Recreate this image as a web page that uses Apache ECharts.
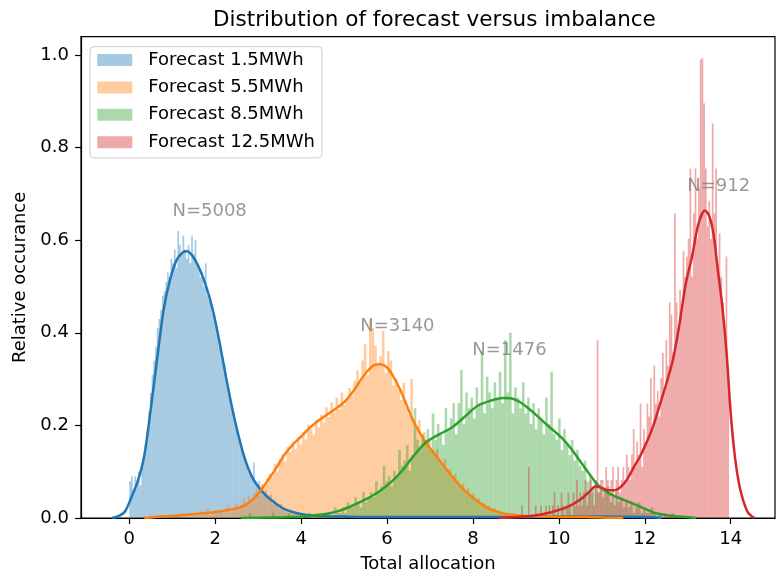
<!DOCTYPE html>
<html>
<head>
<meta charset="utf-8">
<script src="https://cdn.jsdelivr.net/npm/echarts@6/dist/echarts.min.js"></script>
<style>html,body{margin:0;padding:0;background:#fff}#chart{width:776px;height:573px}</style>
</head>
<body>
<div id="chart"></div>
<script>
// ---- Data ----
const seriesNames = ['Forecast 1.5MWh', 'Forecast 5.5MWh', 'Forecast 8.5MWh', 'Forecast 12.5MWh'];
const xTicks = [0, 2, 4, 6, 8, 10, 12, 14];
const yTicks = [0.0, 0.2, 0.4, 0.6, 0.8, 1.0];

// Histograms: first bin edge, bin width, densities
const blueStart = 0.0, blueWidth = 0.04;
const blueHist = [
  0.08,0.09,0.06,0.09,0.08,0.10,0.07,0.11,0.13,0.16,
  0.19,0.23,0.27,0.31,0.34,0.37,0.41,0.43,0.45,0.48,
  0.49,0.51,0.53,0.52,0.56,0.55,0.58,0.54,0.62,0.59,
  0.57,0.61,0.58,0.56,0.59,0.55,0.61,0.57,0.60,0.55,
  0.54,0.52,0.53,0.50,0.55,0.48,0.47,0.46,0.44,0.43,
  0.42,0.40,0.37,0.36,0.34,0.33,0.30,0.28,0.26,0.24,
  0.23,0.21,0.19,0.18,0.16,0.15,0.14,0.13,0.11,0.10,
  0.10,0.09,0.12,0.08,0.07,0.08,0.06,0.07,0.05,0.06,
  0.05,0.04,0.05,0.03,0.04,0.03,0.03,0.02,0.03,0.02,
  0.02,0.02,0.01,0.02,0.01,0.01,0.01,0.01,0.01
];
const orangeStart = 0.3, orangeWidth = 0.06;
const orangeHist = [
  0.005,0,0,0.005,0,0,0.005,0,0,0.005,
  0,0.005,0,0,0.005,0.011,0,0.005,0,0.005,
  0.011,0.005,0.016,0.005,0.011,0.021,0.005,0.011,0.016,0.011,
  0.016,0.011,0.021,0.027,0.011,0.016,0.032,0.021,0.027,0.043,
  0.032,0.048,0.037,0.053,0.064,0.048,0.074,0.069,0.085,0.096,
  0.090,0.117,0.101,0.128,0.138,0.122,0.154,0.143,0.165,0.149,
  0.175,0.159,0.186,0.170,0.202,0.191,0.180,0.212,0.196,0.223,
  0.207,0.239,0.218,0.250,0.228,0.260,0.234,0.271,0.244,0.255,
  0.281,0.265,0.297,0.319,0.292,0.340,0.375,0.308,0.430,0.410,
  0.372,0.329,0.350,0.404,0.313,0.361,0.340,0.287,0.302,0.276,
  0.255,0.292,0.239,0.223,0.300,0.207,0.191,0.212,0.175,0.186,
  0.159,0.170,0.143,0.138,0.149,0.122,0.112,0.128,0.101,0.106,
  0.090,0.096,0.080,0.069,0.074,0.058,0.064,0.048,0.053,0.037,
  0.043,0.027,0.032,0.021,0.027,0.016,0.021,0.011,0.016,0.011,
  0.005,0.011,0.005,0.011,0.005,0,0.005,0.005,0,0.005,
  0,0.005,0,0,0.005,0,0,0.005,0,0,
  0,0,0.005,0,0,0,0,0.005,0,0
];
const greenStart = 2.6, greenWidth = 0.06;
const greenHist = [
  0,0,0,0.011,0,0,0,0,0,0,
  0,0,0.011,0,0,0,0,0,0.011,0,
  0,0,0,0.011,0,0,0.011,0,0,0.011,
  0,0.011,0,0.011,0.011,0,0.023,0.011,0.011,0.023,
  0.011,0.034,0.023,0.023,0.045,0.034,0.023,0.056,0.034,0.045,
  0.056,0.045,0.079,0.056,0.068,0.113,0.079,0.090,0.068,0.102,
  0.090,0.147,0.113,0.124,0.158,0.102,0.136,0.237,0.169,0.147,
  0.181,0.158,0.192,0.147,0.226,0.169,0.203,0.181,0.158,0.237,
  0.192,0.215,0.248,0.181,0.248,0.320,0.203,0.271,0.237,0.260,
  0.215,0.282,0.248,0.361,0.226,0.305,0.271,0.237,0.293,0.260,
  0.316,0.248,0.384,0.271,0.400,0.226,0.282,0.260,0.237,0.293,
  0.226,0.260,0.203,0.248,0.192,0.237,0.215,0.181,0.260,0.203,
  0.316,0.181,0.169,0.215,0.147,0.192,0.158,0.136,0.169,0.124,
  0.147,0.113,0.102,0.124,0.079,0.090,0.068,0.079,0.056,0.068,
  0.045,0.056,0.068,0.034,0.045,0.056,0.034,0.045,0.023,0.034,
  0.023,0.034,0.011,0.023,0.034,0.011,0.023,0.011,0.011,0.023,
  0.011,0,0.011,0,0.011,0,0,0.011,0,0
];
const redStart = 9.0, redWidth = 0.04;
const redHist = [
  0,0,0,0.027,0,0,0,0.110,0,0,
  0,0.027,0,0,0.027,0,0,0.027,0,0.027,
  0,0.027,0.055,0,0.027,0,0.055,0.027,0,0.027,
  0.055,0.027,0,0.055,0.027,0.082,0.027,0.055,0.027,0.055,
  0.082,0.027,0.055,0.082,0.055,0.027,0.082,0.384,0.055,0.082,
  0.082,0.055,0.110,0.082,0.055,0.082,0.110,0.027,0.082,0.110,
  0.055,0.082,0.110,0.082,0.137,0.110,0.082,0.137,0.192,0.110,
  0.165,0.137,0.247,0.110,0.192,0.165,0.247,0.219,0.302,0.192,
  0.329,0.247,0.274,0.219,0.302,0.357,0.274,0.384,0.329,0.466,
  0.439,0.357,0.658,0.466,0.411,0.493,0.439,0.576,0.521,0.565,
  0.603,0.755,0.521,0.658,0.755,0.603,0.713,0.990,0.993,0.896,
  0.755,0.630,0.685,0.603,0.852,0.658,0.755,0.548,0.615,0.521,
  0.466,0.384,0.565,0.329
];

// KDE curves
const blueKdeX = [-0.40,-0.25,-0.10,0.05,0.20,0.35,0.50,0.65,0.80,0.95,1.10,1.25,1.35,1.50,1.65,1.80,1.95,2.10,2.25,2.40,2.55,2.70,2.85,3.00,3.20,3.40,3.60,3.80,4.10,4.50,5.00,6.00,7.00,8.00,9.00,10.00,11.00,12.00,12.40];
const blueKdeY = [0.000,0.004,0.014,0.045,0.080,0.135,0.235,0.345,0.450,0.515,0.557,0.574,0.576,0.562,0.535,0.497,0.447,0.380,0.305,0.235,0.175,0.125,0.090,0.068,0.047,0.032,0.020,0.013,0.007,0.004,0.003,0.002,0.002,0.002,0.002,0.003,0.003,0.002,0.000];
const orangeKdeX = [0.35,0.8,1.2,1.6,2.0,2.3,2.5,2.7,2.85,3.0,3.2,3.4,3.6,3.8,4.0,4.2,4.4,4.6,4.8,5.0,5.2,5.4,5.55,5.7,5.85,6.0,6.15,6.3,6.45,6.6,6.75,6.9,7.05,7.2,7.4,7.6,7.8,8.0,8.2,8.4,8.7,9.0,9.4,9.8,10.2,10.6,11.0,11.5];
const orangeKdeY = [0.000,0.004,0.006,0.009,0.013,0.017,0.021,0.028,0.038,0.052,0.078,0.105,0.135,0.158,0.176,0.195,0.210,0.223,0.236,0.250,0.272,0.300,0.318,0.330,0.332,0.325,0.305,0.278,0.245,0.212,0.186,0.163,0.145,0.127,0.103,0.080,0.060,0.044,0.030,0.019,0.010,0.006,0.004,0.003,0.002,0.002,0.001,0.000];
const greenKdeX = [2.6,3.2,3.8,4.2,4.6,4.9,5.2,5.5,5.8,6.1,6.35,6.6,6.9,7.2,7.5,7.8,8.1,8.4,8.7,8.9,9.1,9.3,9.5,9.7,9.9,10.1,10.3,10.5,10.7,10.9,11.1,11.3,11.6,11.9,12.2,12.5,12.8,13.2];
const greenKdeY = [0.000,0.001,0.002,0.004,0.009,0.016,0.027,0.040,0.056,0.078,0.102,0.132,0.163,0.180,0.195,0.218,0.242,0.253,0.259,0.258,0.250,0.236,0.220,0.203,0.187,0.170,0.148,0.122,0.096,0.072,0.057,0.047,0.036,0.024,0.012,0.006,0.003,0.000];
const redKdeX = [8.6,9.0,9.4,9.8,10.2,10.5,10.7,10.85,11.0,11.15,11.3,11.45,11.6,11.75,11.9,12.05,12.2,12.35,12.5,12.65,12.8,12.95,13.1,13.25,13.4,13.5,13.6,13.7,13.8,13.9,14.0,14.1,14.2,14.3,14.4,14.55];
const redKdeY = [0.000,0.002,0.005,0.012,0.024,0.040,0.056,0.068,0.065,0.060,0.060,0.068,0.085,0.111,0.135,0.165,0.200,0.245,0.290,0.340,0.415,0.505,0.565,0.636,0.664,0.652,0.612,0.535,0.460,0.360,0.225,0.130,0.070,0.035,0.012,0.000];

// N annotations
const nLabelText = ['N=5008', 'N=3140', 'N=1476', 'N=912'];
const nLabelX = [1.87, 6.24, 8.85, 13.72];
const nLabelY = [0.663, 0.413, 0.363, 0.716];

// ---- Build ----
const baseColors = ['#1f77b4', '#ff7f0e', '#2ca02c', '#d62728'];
const fillColors = ['rgba(31,119,180,0.4)', 'rgba(255,127,14,0.4)', 'rgba(44,160,44,0.4)', 'rgba(214,39,40,0.4)'];
const hists = [[blueStart, blueWidth, blueHist], [orangeStart, orangeWidth, orangeHist], [greenStart, greenWidth, greenHist], [redStart, redWidth, redHist]];
const kdes = [[blueKdeX, blueKdeY], [orangeKdeX, orangeKdeY], [greenKdeX, greenKdeY], [redKdeX, redKdeY]];
const FONT = 'DejaVu Sans';

function histData(start, w, vals) {
  return vals.map((v, i) => [start + i * w, start + (i + 1) * w, v]);
}
function renderBar(params, api) {
  const h = api.value(2);
  if (!h) return null;
  const p0 = api.coord([api.value(0), 0]);
  const p1 = api.coord([api.value(1), h]);
  return {
    type: 'rect',
    shape: { x: p0[0], y: p1[1], width: p1[0] - p0[0], height: p0[1] - p1[1] },
    style: { fill: api.visual('color') }
  };
}

const series = [];
for (let k = 0; k < 4; k++) {
  const [s, w, vals] = hists[k];
  series.push({
    name: seriesNames[k], type: 'custom', renderItem: renderBar,
    data: histData(s, w, vals), encode: { x: [0, 1], y: 2 },
    itemStyle: { color: fillColors[k] }, silent: true
  });
  const [kx, ky] = kdes[k];
  series.push({
    name: 'kde' + k, type: 'line', data: kx.map((x, i) => [x, ky[i]]),
    showSymbol: false, smooth: 0.3, silent: true,
    lineStyle: { color: baseColors[k], width: 2.5 }, itemStyle: { color: baseColors[k] }
  });
}
series.push({
  name: 'labels', type: 'scatter', symbolSize: 1, silent: true,
  itemStyle: { color: 'transparent' },
  data: nLabelText.map((t, i) => ({ value: [nLabelX[i], nLabelY[i]], name: t })),
  label: { show: true, position: 'inside', formatter: p => p.name, color: '#808080', fontSize: 18, fontFamily: FONT }
});

const chart = echarts.init(document.getElementById('chart'), null, { renderer: 'canvas' });
chart.setOption({
  animation: false,
  backgroundColor: '#fff',
  title: {
    text: 'Distribution of forecast versus imbalance', left: 208, top: 4,
    textStyle: { fontFamily: FONT, fontSize: 21.5, fontWeight: 'normal', color: '#000' }
  },
  legend: {
    data: seriesNames, orient: 'vertical', left: 90, top: 46.7,
    icon: 'rect', itemWidth: 35, itemHeight: 12, itemGap: 7.4,
    padding: [3.3, 7, 5.7, 7.3],
    borderColor: '#cccccc', borderWidth: 1, borderRadius: 4, backgroundColor: 'rgba(255,255,255,0.8)',
    textStyle: { fontFamily: FONT, fontSize: 18, color: '#000', lineHeight: 20, padding: [0, 0, 0, 11] }
  },
  grid: { left: 81, right: 1, top: 36.7, bottom: 55, outerBoundsMode: 'none', containLabel: false, show: true, borderColor: '#000', borderWidth: 1.2, backgroundColor: 'transparent' },
  xAxis: {
    type: 'value', min: -1.124, max: 15.03,
    name: 'Total allocation', nameLocation: 'middle', nameGap: 37,
    nameTextStyle: { fontFamily: FONT, fontSize: 18, color: '#000' },
    axisLine: { onZero: false, lineStyle: { color: '#000', width: 1.2 } },
    axisTick: { show: true, length: 6, customValues: xTicks, lineStyle: { color: '#000', width: 1.2 } },
    axisLabel: { customValues: xTicks, margin: 12, fontFamily: FONT, fontSize: 18, color: '#000' },
    splitLine: { show: false }
  },
  yAxis: {
    type: 'value', min: 0, max: 1.0395,
    name: 'Relative occurance', nameLocation: 'middle', nameGap: 42,
    nameTextStyle: { fontFamily: FONT, fontSize: 18, color: '#000' },
    axisLine: { show: true, onZero: false, lineStyle: { color: '#000', width: 1.2 } },
    axisTick: { show: true, length: 6, customValues: yTicks, lineStyle: { color: '#000', width: 1.2 } },
    axisLabel: { customValues: yTicks, margin: 12, fontFamily: FONT, fontSize: 18, color: '#000', formatter: v => v.toFixed(1) },
    splitLine: { show: false }
  },
  series: series
});
</script>
</body>
</html>
